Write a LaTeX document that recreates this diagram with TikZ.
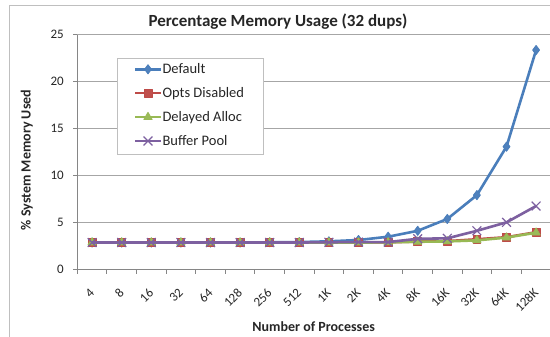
\documentclass[tikz,border=0pt]{standalone}
\usepackage{fontspec}
\setmainfont{Carlito}
\usetikzlibrary{plotmarks}
\definecolor{blueL}{HTML}{4A7EBB}
\definecolor{blueM}{HTML}{4F81BD}
\definecolor{redL}{HTML}{BE4B48}
\definecolor{redM}{HTML}{C0504D}
\definecolor{greenL}{HTML}{98B954}
\definecolor{greenM}{HTML}{9BBB59}
\definecolor{purpL}{HTML}{7D60A0}
\definecolor{gridc}{HTML}{A6A6A6}
\definecolor{axisc}{HTML}{868686}
\definecolor{framec}{HTML}{BFBFBF}
\definecolor{txt}{HTML}{262626}
\tikzset{
  frame/.style={draw=framec, line width=0.9pt},
  gridline/.style={draw=gridc, line width=0.8pt},
  axisline/.style={draw=axisc, line width=0.9pt},
  titlefont/.style={font=\fontsize{17}{20}\selectfont\bfseries, text=txt, inner sep=0pt},
  axtitle/.style={font=\fontsize{14}{16}\selectfont\bfseries, text=txt, inner sep=0pt},
  ticklab/.style={font=\fontsize{13}{15}\selectfont, text=txt, inner sep=0pt},
  legtext/.style={font=\fontsize{14.5}{16}\selectfont, text=txt, inner sep=0pt, anchor=base west},
  sdefault/.style={draw=blueL, line width=2.6pt, line join=round, mark=diamond*, mark size=4.6pt,
     mark options={fill=blueM, draw=blueL, line width=0.8pt}},
  sopts/.style={draw=redL, line width=2.6pt, line join=round, mark=square*, mark size=3.9pt,
     mark options={fill=redM, draw=redL, line width=0.8pt}},
  sdelay/.style={draw=greenL, line width=2.6pt, line join=round, mark=triangle*, mark size=4.8pt,
     mark options={fill=greenM, draw=greenL, line width=0.8pt}},
  sbuffer/.style={draw=purpL, line width=2.6pt, line join=round, mark=x, mark size=6.2pt,
     mark options={draw=purpL, line width=1.2pt}},
  legmark/.style={mark indices={2}}
}
\begin{document}
\begin{tikzpicture}[x=1pt,y=-1pt]
\useasboundingbox (0,0) rectangle (550,337);
\fill[white] (0,0) rectangle (550,337);
% chart frame (left and top visible)
\draw[frame] (9.3,340) -- (9.3,5) -- (560,5);
% gridlines
\foreach \v in {5,10,15,20,25} {
  \draw[gridline] (77.3,{269.3-9.39*\v}) -- (560,{269.3-9.39*\v});
}
% axes
\draw[axisline] (77.3,35) -- (77.3,269.3) -- (560,269.3);
\foreach \v in {0,5,10,15,20,25} {
  \draw[axisline] (73,{269.3-9.39*\v}) -- (77.3,{269.3-9.39*\v});
  \node[ticklab, anchor=east] (y\v) at (64,{269.3-9.39*\v}) {\v};
}
\foreach \i in {0,...,16} {
  \draw[axisline] ({77.3+29.6*\i},269.3) -- ({77.3+29.6*\i},273.8);
}
\foreach \lab [count=\i from 0] in {4,8,16,32,64,128,256,512,1K,2K,4K,8K,16K,32K,64K,128K} {
  \node[ticklab, anchor=east, rotate=45] (x\i) at ({77.3+29.6*(\i+0.5)},290.5) {\lab};
}
% titles
\node[titlefont, anchor=base] (title) at (278,26.3) {Percentage Memory Usage (32 dups)};
\node[axtitle, anchor=base] (xtitle) at (313.7,331.7) {Number of Processes};
\node[axtitle, anchor=base, rotate=90] (ytitle) at (30.7,160) {\% System Memory Used};
% data
\begin{scope}[shift={(77.3,269.3)}, x=29.6pt, y=9.39pt]
\draw[sdefault] plot coordinates {(0.5,2.85) (1.5,2.85) (2.5,2.85) (3.5,2.85) (4.5,2.85) (5.5,2.85) (6.5,2.88) (7.5,2.9) (8.5,2.98) (9.5,3.12) (10.5,3.47) (11.5,4.1) (12.5,5.36) (13.5,7.9) (14.5,13.06) (15.5,23.35)};
\draw[sopts] plot coordinates {(0.5,2.85) (1.5,2.85) (2.5,2.85) (3.5,2.85) (4.5,2.85) (5.5,2.85) (6.5,2.85) (7.5,2.85) (8.5,2.85) (9.5,2.85) (10.5,2.88) (11.5,2.95) (12.5,3.0) (13.5,3.2) (14.5,3.42) (15.5,3.95)};
\draw[sdelay] plot coordinates {(0.5,2.85) (1.5,2.85) (2.5,2.85) (3.5,2.85) (4.5,2.85) (5.5,2.85) (6.5,2.85) (7.5,2.85) (8.5,2.85) (9.5,2.85) (10.5,2.87) (11.5,2.93) (12.5,2.97) (13.5,3.08) (14.5,3.38) (15.5,3.9)};
\draw[sbuffer] plot coordinates {(0.5,2.85) (1.5,2.85) (2.5,2.85) (3.5,2.85) (4.5,2.85) (5.5,2.85) (6.5,2.85) (7.5,2.85) (8.5,2.88) (9.5,2.9) (10.5,2.9) (11.5,3.25) (12.5,3.3) (13.5,4.1) (14.5,5.0) (15.5,6.74)};
\end{scope}
% legend
\node[draw=framec, fill=white, line width=0.8pt, minimum width=146pt, minimum height=95.7pt, inner sep=0pt, anchor=north west] (legend) at (116.7,58.3) {};
\coordinate (l1) at (148,69.3);
\coordinate (l2) at (148,93.2);
\coordinate (l3) at (148,117.1);
\coordinate (l4) at (148,141);
\draw[sdefault, legmark] plot coordinates {([xshift=-13pt]l1) (l1) ([xshift=13pt]l1)};
\draw[sopts, legmark] plot coordinates {([xshift=-13pt]l2) (l2) ([xshift=13pt]l2)};
\draw[sdelay, legmark] plot coordinates {([xshift=-13pt]l3) (l3) ([xshift=13pt]l3)};
\draw[sbuffer, legmark] plot coordinates {([xshift=-13pt]l4) (l4) ([xshift=13pt]l4)};
\node[legtext] (t1) at (162.3,73.4) {Default};
\node[legtext] (t2) at (162.3,97.3) {Opts Disabled};
\node[legtext] (t3) at (162.3,121.2) {Delayed Alloc};
\node[legtext] (t4) at (162.3,145.1) {Buffer Pool};
\end{tikzpicture}
\end{document}
